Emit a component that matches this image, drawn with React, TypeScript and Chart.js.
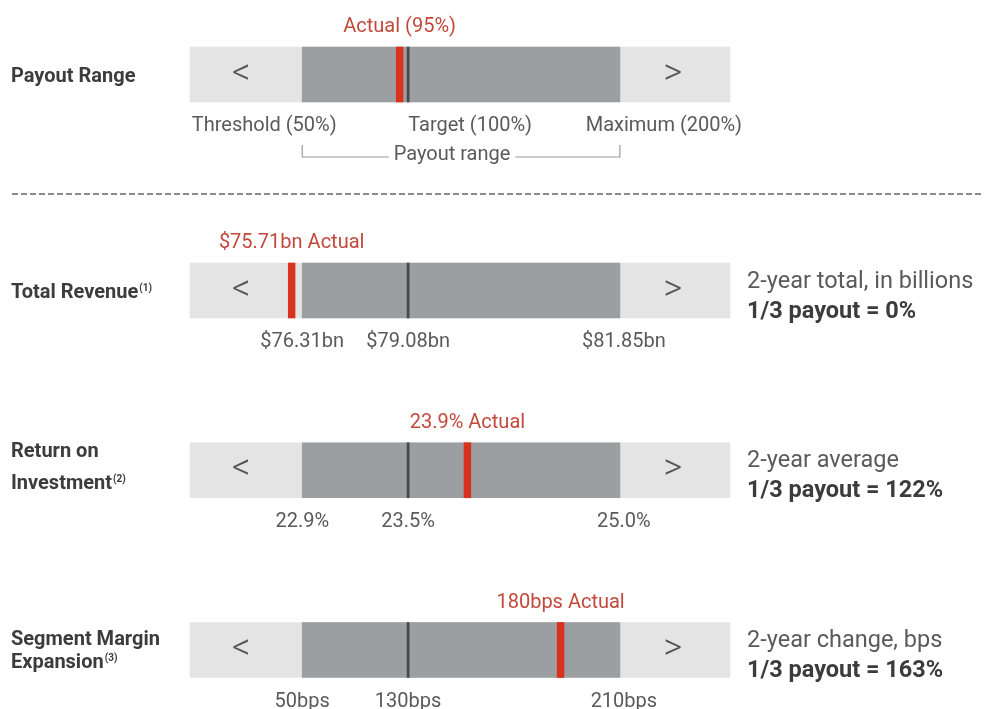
import React, { useEffect, useRef } from 'react';
import { Chart, registerables } from 'chart.js';

Chart.register(...registerables);

// ---------------- data ----------------
const rowLabelLines: string[][] = [
  ['Payout Range'],
  ['Total Revenue'],
  ['Return on', 'Investment'],
  ['Segment Margin', 'Expansion'],
];
const rowNotes = ['', '(1)', '(2)', '(3)'];
const thresholdLabels = ['Threshold (50%)', '$76.31bn', '22.9%', '50bps'];
const targetLabels = ['Target (100%)', '$79.08bn', '23.5%', '130bps'];
const maximumLabels = ['Maximum (200%)', '$81.85bn', '25.0%', '210bps'];
const actualLabels = ['Actual (95%)', '$75.71bn Actual', '23.9% Actual', '180bps Actual'];
// marker position of the actual result on the payout scale (% of target)
const actualPosition = [96, 45, 128, 172];
// payout scale points
const zoneBounds = [-3, 50, 200, 252]; // bar start, threshold, maximum, bar end
const targetPoint = 100;
const descLines = ['', '2-year total, in billions', '2-year average', '2-year change, bps'];
const payoutLines = ['', '1/3 payout = 0%', '1/3 payout = 122%', '1/3 payout = 163%'];
const bracketLabel = 'Payout range';

// ---------------- styles ----------------
const FONT = 'Roboto, "Noto Sans", sans-serif';
const BAR_H = 55;
const LIGHT = '#e4e4e4';
const DARK = '#9b9fa2';
const RED = '#d9321f';
const RED_TEXT = '#c2493b';
const TEXT = '#5a5a5a';
const TEXT_DARK = '#3c3c3c';
const LINE_GRAY = '#9a9a9a';
const MARKER_W = 3.2;
const TARGET_W = 1.0;
const labelLineDy: number[][] = [[0], [0], [-20, 12], [-12, 11]];

function overlay(rowsIdx: number[], isTop: boolean) {
  return {
    id: 'overlay' + (isTop ? 'Top' : 'Bottom'),
    afterDatasetsDraw(chart: any) {
      const ctx: CanvasRenderingContext2D = chart.ctx;
      const xs = chart.scales.x;
      const ys = chart.scales.y;
      ctx.save();
      rowsIdx.forEach((r, k) => {
        const yc = ys.getPixelForValue(k);
        const xStart = xs.getPixelForValue(zoneBounds[0]);
        const xTh = xs.getPixelForValue(zoneBounds[1]);
        const xMax = xs.getPixelForValue(zoneBounds[2]);
        const xEnd = xs.getPixelForValue(zoneBounds[3]);
        const xTg = xs.getPixelForValue(targetPoint);
        const xAct = xs.getPixelForValue(actualPosition[r]);

        // chevrons
        ctx.fillStyle = '#555';
        ctx.font = `300 36px ${FONT}`;
        ctx.textAlign = 'center';
        ctx.textBaseline = 'middle';
        ctx.fillText('<', (xStart + xTh) / 2 - 5, yc);
        ctx.fillText('>', (xMax + xEnd) / 2 - 2, yc);

        // row label
        ctx.textAlign = 'left';
        ctx.textBaseline = 'alphabetic';
        const lines = rowLabelLines[r];
        lines.forEach((ln, li) => {
          const by = yc + labelLineDy[r][li] + 7;
          ctx.font = `bold 20px ${FONT}`;
          ctx.fillStyle = TEXT_DARK;
          ctx.fillText(ln, 11, by);
          if (li === lines.length - 1 && rowNotes[r]) {
            const w = ctx.measureText(ln).width;
            ctx.font = `bold 10px ${FONT}`;
            ctx.fillText(rowNotes[r], 11 + w + 1, by - 7);
          }
        });

        // actual label
        ctx.font = `20px ${FONT}`;
        ctx.fillStyle = RED_TEXT;
        ctx.textAlign = 'center';
        ctx.fillText(actualLabels[r], xAct, yc - 42.5);

        // tick labels
        ctx.fillStyle = TEXT;
        const tb = yc + 56.5;
        if (isTop) {
          ctx.fillText(thresholdLabels[r], xTh - 38, tb);
          ctx.fillText(targetLabels[r], xTg + 62, tb);
          ctx.fillText(maximumLabels[r], xMax + 44, tb);
          // bracket
          const by = yc + 82.5;
          ctx.font = `20px ${FONT}`;
          const cx = (xTh + xMax) / 2 - 9;
          const tw = ctx.measureText(bracketLabel).width;
          ctx.fillText(bracketLabel, cx, by + 3);
          ctx.strokeStyle = LINE_GRAY;
          ctx.lineWidth = 1.2;
          ctx.beginPath();
          ctx.moveTo(xTh, by - 12);
          ctx.lineTo(xTh, by);
          ctx.lineTo(cx - tw / 2 - 5, by);
          ctx.moveTo(cx + tw / 2 + 5, by);
          ctx.lineTo(xMax, by);
          ctx.lineTo(xMax, by - 12);
          ctx.stroke();
          // dashed separator
          ctx.strokeStyle = '#8a8a8a';
          ctx.lineWidth = 2;
          ctx.setLineDash([6, 3]);
          ctx.beginPath();
          ctx.moveTo(12, 194);
          ctx.lineTo(chart.width, 194);
          ctx.stroke();
          ctx.setLineDash([]);
        } else {
          ctx.fillText(thresholdLabels[r], xTh, tb);
          ctx.fillText(targetLabels[r], xTg, tb);
          ctx.fillText(maximumLabels[r], xMax + 4, tb);
        }

        // description
        if (descLines[r]) {
          ctx.textAlign = 'left';
          ctx.font = `23.5px ${FONT}`;
          ctx.fillStyle = TEXT;
          ctx.fillText(descLines[r], 747, yc - 3);
          ctx.font = `bold 23.5px ${FONT}`;
          ctx.fillStyle = TEXT_DARK;
          ctx.fillText(payoutLines[r], 747, yc + 27);
        }
      });
      ctx.restore();
    },
  };
}

function makeChart(canvas: HTMLCanvasElement, rowsIdx: number[], isTop: boolean, pad: any) {
  const labels = rowsIdx.map((r) => rowLabelLines[r].join(' '));
  const common = { grouped: false, barThickness: BAR_H, borderWidth: 0, clip: false as any };
  return new Chart(canvas, {
    type: 'bar',
    data: {
      labels,
      datasets: [
        {
          ...common,
          label: 'Actual',
          order: 0,
          data: rowsIdx.map((r) => [actualPosition[r] - MARKER_W / 2, actualPosition[r] + MARKER_W / 2]),
          backgroundColor: RED,
        },
        {
          ...common,
          label: 'Target',
          order: 1,
          data: rowsIdx.map(() => [targetPoint - TARGET_W / 2, targetPoint + TARGET_W / 2]),
          backgroundColor: '#4a4a4a',
        },
        {
          ...common,
          label: 'Payout range',
          order: 2,
          data: rowsIdx.map(() => [zoneBounds[1], zoneBounds[2]]),
          backgroundColor: DARK,
        },
        {
          ...common,
          label: 'Outside range',
          order: 3,
          data: rowsIdx.map(() => [zoneBounds[0], zoneBounds[3]]),
          backgroundColor: LIGHT,
        },
      ] as any,
    },
    options: {
      indexAxis: 'y',
      animation: false,
      responsive: false,
      devicePixelRatio: 1,
      layout: { padding: pad },
      plugins: { legend: { display: false }, tooltip: { enabled: false } },
      scales: {
        x: { type: 'linear', min: zoneBounds[0], max: zoneBounds[3], display: false },
        y: { type: 'category', display: false, offset: isTop },
      },
    } as any,
    plugins: [overlay(rowsIdx, isTop)],
  });
}

export default function App() {
  const topRef = useRef<HTMLCanvasElement>(null);
  const botRef = useRef<HTMLCanvasElement>(null);
  useEffect(() => {
    const c1 = makeChart(topRef.current!, [0], true, { left: 190, right: 254, top: 20, bottom: 71 });
    const c2 = makeChart(botRef.current!, [1, 2, 3], false, { left: 190, right: 254, top: 90.5, bottom: 59 });
    return () => {
      c1.destroy();
      c2.destroy();
    };
  }, []);
  return (
    <div style={{ position: 'fixed', left: 0, top: 0, width: 984, height: 709, background: '#fff', overflow: 'hidden' }}>
      <canvas ref={topRef} width={984} height={200} style={{ position: 'absolute', left: 0, top: 0, width: 984, height: 200 }} />
      <canvas ref={botRef} width={984} height={509} style={{ position: 'absolute', left: 0, top: 200, width: 984, height: 509 }} />
    </div>
  );
}
